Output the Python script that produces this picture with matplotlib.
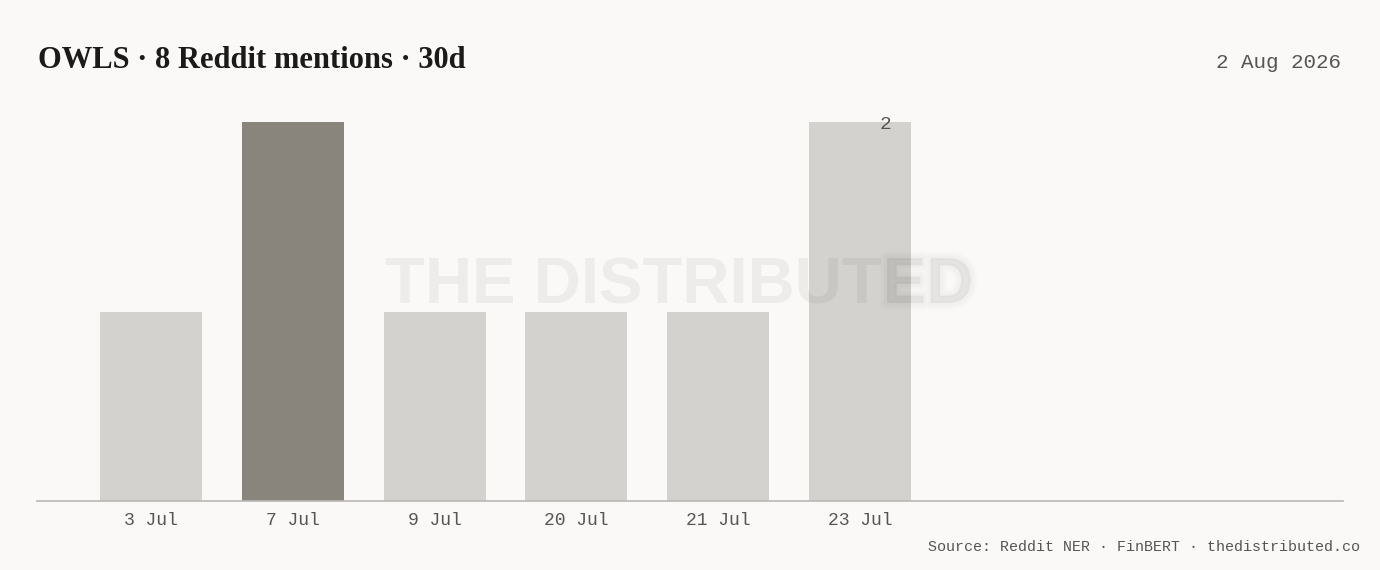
import numpy as np
import matplotlib
matplotlib.use("Agg")
import matplotlib.pyplot as plt
import matplotlib.patheffects as pe

# data
days = ["3 Jul", "7 Jul", "9 Jul", "20 Jul", "21 Jul", "23 Jul"]
mentions = [1, 2, 1, 1, 1, 2]
highlight = [False, True, False, False, False, False]

title = "OWLS · 8 Reddit mentions · 30d"
date_txt = "2 Aug 2026"
source_txt = "Source: Reddit NER · FinBERT · thedistributed.co"

bg = "#faf9f7"
bar_light = "#d3d2ce"
bar_dark = "#8a857c"
mono = "Liberation Mono"

fig = plt.figure(figsize=(13.8, 5.7), dpi=100, facecolor=bg)
W, H = 1380, 570
# axes: x 37..1343 px, baseline 501 px, top (value 2) 122 px
ax = fig.add_axes([37 / W, 1 - 501 / H, (1343 - 37) / W, (501 - 122) / H])
ax.set_facecolor(bg)

x = np.arange(len(days))
cols = [bar_dark if h else bar_light for h in highlight]
ax.bar(x, mentions, width=0.72, color=cols, zorder=2)

ax.set_xlim(-0.804, 8.406)
ax.set_ylim(0, 2)
for s in ["top", "right", "left"]:
    ax.spines[s].set_visible(False)
ax.spines["bottom"].set_color("#b8b8b6")
ax.spines["bottom"].set_linewidth(1.2)
ax.set_yticks([])
ax.set_xticks(x)
ax.set_xticklabels(days, fontfamily=mono, fontsize=13, color="#555555")
ax.tick_params(axis="x", length=0, pad=8)

# value label on the last bar
ax.text(5.18, 1.985, str(mentions[-1]), ha="center", va="center",
        fontfamily=mono, fontsize=14, color="#555555", zorder=5)

# watermark, the tail softened with faint strokes
wm_y = 1 - 286 / H
wm = fig.text(385 / W, wm_y, "THE DISTRIBUT", fontfamily="Liberation Sans",
              fontweight="bold", fontsize=47, color="black", alpha=0.05,
              va="center", ha="left", zorder=10)
fig.canvas.draw()
end_px = wm.get_window_extent().x1
soft = [pe.Stroke(linewidth=lw, foreground="black", alpha=0.012)
        for lw in [10, 7, 4]] + [pe.Normal()]
fig.text((end_px + 1) / W, wm_y, "ED", fontfamily="Liberation Sans",
         fontweight="bold", fontsize=47, color="black", alpha=0.025,
         va="center", ha="left", zorder=10, path_effects=soft)

fig.text(38 / W, 1 - 60 / H, title, fontfamily="Liberation Serif",
         fontweight="bold", fontsize=22, color="#1a1a1a", va="center", ha="left")
fig.text(1341 / W, 1 - 63 / H, date_txt, fontfamily=mono, fontsize=15,
         color="#555555", va="center", ha="right")
fig.text(1360 / W, 1 - 547 / H, source_txt, fontfamily=mono, fontsize=10.8,
         color="#555555", va="center", ha="right")

fig.savefig("out.png", dpi=100, facecolor=bg)
